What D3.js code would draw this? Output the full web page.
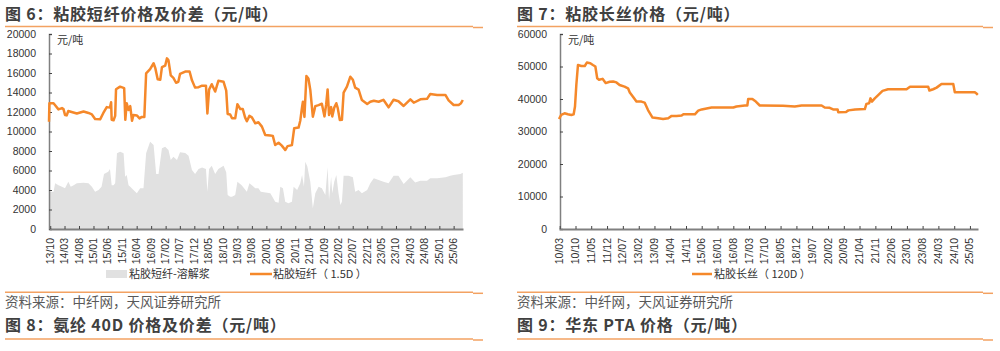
<!DOCTYPE html>
<html>
<head>
<meta charset="utf-8">
<script src="https://cdn.jsdelivr.net/npm/d3@7"></script>
<style>
  body { margin: 0; background: #fff; }
  svg { display: block; }
  text { font-family: "Liberation Sans", Arial, "Noto Sans CJK SC", sans-serif; }
  .cjk { font-family: "Noto Sans CJK SC", sans-serif; }
</style>
</head>
<body>
<div id="chart"></div>
<script>
// ---- data: viscose staple fibre 1.5D price (元/吨)
const stapleTicks = ["13/10","14/03","14/08","15/01","15/06","15/11","16/04","16/09","17/02","17/07","17/12","18/05","18/10","19/03","19/08","20/01","20/06","20/11","21/04","21/09","22/02","22/07","22/12","23/05","23/10","24/03","24/08","25/01","25/06"];

const staplePrice = [
  ["2013-09-18",11000],["2013-09-22",12900],["2013-11-05",12900],["2013-11-22",12700],["2013-12-27",12270],
  ["2014-02-02",12400],["2014-02-18",12300],["2014-03-06",11700],["2014-03-24",11650],["2014-04-10",12100],
  ["2014-05-15",12000],["2014-07-09",11850],["2014-09-18",12050],["2014-11-09",11900],["2014-12-15",11750],
  ["2015-01-18",11280],["2015-03-12",11250],["2015-04-15",11900],["2015-05-21",12500],["2015-06-24",12450],
  ["2015-07-06",13000],["2015-07-12",11200],["2015-08-01",11150],["2015-08-18",11600],["2015-08-27",14330],
  ["2015-10-09",14600],["2015-11-21",14450],["2015-12-03",11200],["2015-12-18",12900],["2016-01-06",12200],
  ["2016-01-24",12600],["2016-02-12",11100],["2016-02-27",11700],["2016-04-03",11650],["2016-05-01",11350],
  ["2016-05-25",11500],["2016-06-21",11500],["2016-07-10",15970],["2016-08-21",16400],["2016-09-27",17000],
  ["2016-10-15",16500],["2016-11-09",15350],["2016-12-06",15300],["2016-12-24",16600],["2017-01-27",16750],
  ["2017-02-15",17500],["2017-03-03",17300],["2017-03-27",15750],["2017-04-24",15500],["2017-05-22",15000],
  ["2017-06-15",15100],["2017-07-03",15900],["2017-08-27",16150],["2017-10-12",16150],["2017-11-06",15250],
  ["2017-12-09",14500],["2018-01-15",14550],["2018-02-21",14700],["2018-04-03",14700],["2018-04-18",11850],
  ["2018-05-06",14300],["2018-06-03",14850],["2018-07-09",14100],["2018-08-12",15200],["2018-10-06",15100],
  ["2018-11-03",14200],["2018-11-18",11800],["2018-12-15",11750],["2019-01-03",11350],["2019-02-06",11350],
  ["2019-03-01",12800],["2019-04-01",12300],["2019-04-27",12300],["2019-05-21",11450],["2019-06-09",11050],
  ["2019-07-06",11600],["2019-08-01",11450],["2019-09-06",10840],["2019-10-09",10950],["2019-11-15",10500],
  ["2019-12-20",9640],["2020-02-12",9600],["2020-03-09",9550],["2020-04-03",8615],["2020-05-09",8850],
  ["2020-06-12",8550],["2020-07-18",8100],["2020-08-12",8500],["2020-09-27",8600],["2020-10-21",10330],
  ["2020-12-06",10400],["2020-12-24",11100],["2021-01-12",12500],["2021-01-21",13060],["2021-02-06",11500],
  ["2021-02-27",15700],["2021-03-21",15400],["2021-04-09",14260],["2021-05-06",11520],["2021-06-01",12600],
  ["2021-07-06",12700],["2021-08-09",12850],["2021-09-06",11550],["2021-09-24",12800],["2021-10-09",14320],
  ["2021-10-24",11700],["2021-11-15",12500],["2021-11-27",11550],["2021-12-18",12450],["2022-01-09",12900],
  ["2022-01-24",12400],["2022-02-15",11180],["2022-03-09",11200],["2022-03-27",13980],["2022-05-01",14600],
  ["2022-06-06",15620],["2022-07-03",15300],["2022-07-27",14500],["2022-09-01",14300],["2022-10-06",13230],
  ["2022-12-01",12820],["2023-01-03",13050],["2023-02-09",13150],["2023-04-01",13050],["2023-05-21",13250],
  ["2023-07-15",12480],["2023-09-06",13250],["2023-10-27",13100],["2023-12-21",12620],["2024-03-01",13300],
  ["2024-04-06",12950],["2024-06-15",13300],["2024-08-24",13350],["2024-09-27",13850],["2024-12-09",13750],
  ["2025-03-06",13750],["2025-04-09",13200],["2025-06-01",12720],["2025-07-24",12720],["2025-08-18",12900],
  ["2025-09-06",13230]
];

// staple fibre minus dissolving pulp spread
const stapleSpread = [
  ["2013-09-18",2970],["2013-09-22",3830],["2013-11-05",3830],["2013-11-22",4680],["2013-12-27",4500],
  ["2014-02-02",4340],["2014-03-06",4170],["2014-04-10",4850],["2014-05-06",4340],["2014-06-05",4500],
  ["2014-07-09",4680],["2014-09-18",4750],["2014-11-09",4680],["2014-12-15",4340],["2015-01-18",3830],
  ["2015-02-24",4000],["2015-03-27",4340],["2015-04-22",5640],["2015-06-06",5880],["2015-06-24",6150],
  ["2015-07-12",4500],["2015-08-01",4500],["2015-08-18",4680],["2015-09-06",7760],["2015-10-09",7930],
  ["2015-11-15",7760],["2015-12-01",5370],["2015-12-18",5540],["2016-01-06",4500],["2016-01-24",4340],
  ["2016-02-27",4000],["2016-04-03",3660],["2016-05-08",4170],["2016-06-12",4170],["2016-07-10",7760],
  ["2016-08-21",8960],["2016-09-27",8620],["2016-10-24",5640],["2016-11-18",5640],["2016-12-24",8270],
  ["2017-01-27",8440],["2017-03-03",8100],["2017-03-27",7080],["2017-04-24",7420],["2017-06-01",7080],
  ["2017-07-03",7870],["2017-08-27",7800],["2017-10-01",7520],["2017-11-06",6050],["2017-12-09",5640],
  ["2018-01-15",6150],["2018-02-21",6320],["2018-04-03",6150],["2018-04-18",3830],["2018-05-06",6150],
  ["2018-06-03",6500],["2018-07-09",5640],["2018-08-12",6150],["2018-10-06",6500],["2018-11-03",5810],
  ["2018-11-18",3490],["2018-12-15",3320],["2019-01-03",3320],["2019-02-06",3490],["2019-03-01",4850],
  ["2019-04-15",4500],["2019-06-09",3830],["2019-07-06",4680],["2019-08-01",4500],["2019-09-06",4170],
  ["2019-10-09",4170],["2019-11-03",3830],["2020-02-12",3660],["2020-04-03",2800],["2020-05-09",2700],
  ["2020-05-27",4340],["2020-06-24",4170],["2020-07-18",2800],["2020-08-21",2630],["2020-09-27",2800],
  ["2020-10-15",4340],["2020-11-21",4000],["2020-12-24",4680],["2021-01-12",5540],["2021-02-01",4340],
  ["2021-02-15",6900],["2021-03-09",6400],["2021-04-09",4850],["2021-05-06",2120],["2021-06-01",3660],
  ["2021-07-06",4340],["2021-08-09",4170],["2021-09-15",3490],["2021-10-09",6330],["2021-10-24",2970],
  ["2021-11-15",5370],["2021-11-27",3660],["2021-12-18",4850],["2022-01-09",5540],["2022-02-01",3660],
  ["2022-02-21",2460],["2022-03-09",2800],["2022-03-27",5470],["2022-05-18",5470],["2022-07-03",5300],
  ["2022-07-27",3830],["2022-09-01",4000],["2022-10-06",3660],["2022-12-01",4000],["2023-01-03",4680],
  ["2023-02-09",5200],["2023-04-01",5030],["2023-05-21",4850],["2023-07-15",4680],["2023-09-06",5470],
  ["2023-10-27",5470],["2023-12-21",4620],["2024-03-01",5300],["2024-04-21",4780],["2024-06-15",4950],
  ["2024-08-24",4950],["2024-09-27",5200],["2024-12-09",5200],["2025-03-06",5300],["2025-04-27",5470],
  ["2025-06-01",5540],["2025-08-12",5640],["2025-09-06",5780]
];

// ---- data: viscose filament 120D price (元/吨)
const filamentTicks = ["10/03","10/10","11/05","11/12","12/07","13/02","13/09","14/04","14/11","15/06","16/01","16/08","17/03","17/10","18/05","18/12","19/07","20/02","20/09","21/04","21/11","22/06","23/01","23/08","24/03","24/10","25/05"];

const filamentPrice = [
  ["2010-02-20",33850],["2010-03-22",35100],["2010-05-06",35600],["2010-06-20",35300],["2010-08-06",35100],
  ["2010-09-06",35300],["2010-09-24",37700],["2010-10-12",44300],["2010-11-03",50460],["2010-12-18",50150],
  ["2011-02-03",50150],["2011-03-03",51200],["2011-04-18",51000],["2011-05-24",50460],["2011-06-26",50000],
  ["2011-07-21",46400],["2011-08-15",45900],["2011-10-01",46200],["2011-11-12",44900],["2012-01-06",45300],
  ["2012-02-21",45400],["2012-04-06",45100],["2012-05-18",44300],["2012-07-24",43800],["2012-09-09",43300],
  ["2012-10-03",42000],["2012-11-15",40700],["2013-01-01",39200],["2013-03-09",39200],["2013-04-21",38900],
  ["2013-06-06",36600],["2013-08-06",34300],["2013-10-21",34100],["2013-12-27",33850],["2014-03-06",34100],
  ["2014-04-21",34800],["2014-06-27",34800],["2014-09-03",34900],["2014-09-27",35300],["2015-03-01",35300],
  ["2015-04-15",36400],["2015-06-01",36800],["2015-08-06",37100],["2015-10-12",37400],["2016-08-01",37400],
  ["2016-09-12",37700],["2017-01-03",38000],["2017-02-06",38000],["2017-02-18",40000],["2017-04-15",40000],
  ["2017-06-01",39200],["2017-07-24",38000],["2018-06-03",37900],["2018-11-09",37700],["2019-02-09",38000],
  ["2019-11-06",38000],["2019-12-18",37400],["2020-02-24",37300],["2020-04-09",36800],["2020-06-09",36800],
  ["2020-06-18",35900],["2020-10-01",36000],["2020-11-01",36500],["2021-02-01",36800],["2021-06-12",36900],
  ["2021-07-03",38500],["2021-08-09",38700],["2021-08-27",40200],["2021-09-15",39200],["2021-10-24",40200],
  ["2021-12-09",41200],["2022-02-06",42500],["2022-04-21",43000],["2022-12-27",43000],["2023-02-12",43800],
  ["2023-10-15",43800],["2023-11-01",42600],["2023-12-21",43000],["2024-02-06",43500],["2024-04-12",44600],
  ["2024-09-18",44600],["2024-10-09",42100],["2025-07-06",42100],["2025-07-28",41700],["2025-08-15",41300]
];

const ORANGE = "#f5882a";
const RULE = "#f3a262";
const AXIS = "#808080";
const INK = "#404040";
const SPREAD = "#e1e1e1";

const parseDay = d3.timeParse("%Y-%m-%d");
const parseTick = d3.timeParse("%y/%m");
const fmtTick = d3.timeFormat("%y/%m");

const svg = d3.select("#chart").append("svg")
  .attr("width", 1000)
  .attr("height", 351)
  .attr("viewBox", [0, 0, 1000, 351]);

svg.append("rect").attr("width", 1000).attr("height", 351).attr("fill", "#fff");

// ---- frame: titles, rules, sources
const drawFrame = (x0, x1, title, source, nextTitle) => {
  svg.append("text").attr("class", "cjk")
    .attr("x", x0).attr("y", 20)
    .attr("font-size", 16).attr("font-weight", "bold").attr("fill", INK)
    .attr("letter-spacing", 0.8)
    .text(title);
  [26.5, 292.3, 339].forEach(y => {
    svg.append("line")
      .attr("x1", x0).attr("x2", x1 - 10).attr("y1", y).attr("y2", y)
      .attr("stroke", RULE).attr("stroke-width", 1.5);
    svg.append("line")
      .attr("x1", x1 - 10).attr("x2", x1).attr("y1", y + 1).attr("y2", y + 1)
      .attr("stroke", RULE).attr("stroke-width", 1.5);
  });
  svg.append("text").attr("class", "cjk")
    .attr("x", x0).attr("y", 307)
    .attr("font-size", 13.5).attr("fill", "#595959")
    .text(source);
  svg.append("text").attr("class", "cjk")
    .attr("x", x0).attr("y", 331)
    .attr("font-size", 16).attr("font-weight", "bold").attr("fill", INK)
    .attr("letter-spacing", 0.8)
    .text(nextTitle);
};

drawFrame(5, 483, "图 6：粘胶短纤价格及价差（元/吨）", "资料来源：中纤网，天风证券研究所", "图 8：氨纶 40D 价格及价差（元/吨）");
drawFrame(517, 993, "图 7：粘胶长丝价格（元/吨）", "资料来源：中纤网，天风证券研究所", "图 9：华东 PTA 价格（元/吨）");

// ---- shared axis helpers
const drawAxes = (g, xScale, yScale, ticks, yTicks, x0, y0) => {
  const yAxis = g.append("g")
    .attr("transform", `translate(${x0}, 0)`)
    .call(d3.axisRight(yScale).tickValues(yTicks).tickSize(3).tickFormat(""));
  yAxis.select(".domain").attr("stroke", AXIS).attr("stroke-width", 1.5);
  yAxis.selectAll(".tick line").attr("stroke", "#444").attr("stroke-width", 1);

  // labels on the outside
  g.append("g").selectAll("text")
    .data(yTicks)
    .join("text")
      .attr("x", x0 - 13)
      .attr("y", d => yScale(d) + 3.5)
      .attr("text-anchor", "end")
      .attr("font-size", 10.5)
      .attr("fill", "#333")
      .text(d => d);

  const xAxis = g.append("g")
    .attr("transform", `translate(0, ${y0})`)
    .call(d3.axisTop(xScale).tickValues(ticks).tickSize(3).tickSizeOuter(0).tickFormat(""));
  xAxis.select(".domain").attr("stroke", AXIS).attr("stroke-width", 1.8);
  xAxis.selectAll(".tick line").attr("stroke", "#444").attr("stroke-width", 1);

  g.append("g").selectAll("text")
    .data(ticks)
    .join("text")
      .attr("transform", d => `translate(${xScale(d) + 3.5}, ${y0 + 9}) rotate(-90)`)
      .attr("text-anchor", "end")
      .attr("font-size", 10.5)
      .attr("fill", "#333")
      .text(d => fmtTick(d));

  g.append("text").attr("class", "cjk")
    .attr("x", x0 + 8).attr("y", 44)
    .attr("font-size", 11).attr("fill", "#333")
    .text("元/吨");
};

// ---- chart 6: staple fibre
{
  const g = svg.append("g");
  const ticks = stapleTicks.map(parseTick);
  const x = d3.scaleTime()
    .domain([parseDay("2013-09-18"), parseDay("2025-09-08")])
    .range([49, 463]);
  const y = d3.scaleLinear().domain([0, 20000]).range([229, 34]);

  const area = d3.area()
    .x(d => x(parseDay(d[0])))
    .y0(y(0))
    .y1(d => y(d[1]));
  g.append("path")
    .datum(stapleSpread)
    .attr("d", area)
    .attr("fill", SPREAD);

  drawAxes(g, x, y, ticks, d3.range(0, 20001, 2000), 49, 229);

  const line = d3.line()
    .x(d => x(parseDay(d[0])))
    .y(d => y(d[1]));
  g.append("path")
    .datum(staplePrice)
    .attr("d", line)
    .attr("fill", "none")
    .attr("stroke", ORANGE)
    .attr("stroke-width", 2.5)
    .attr("stroke-linejoin", "round");

  // legend
  g.append("rect").attr("x", 106).attr("y", 270).attr("width", 21).attr("height", 8).attr("fill", SPREAD);
  g.append("text").attr("class", "cjk").attr("x", 129).attr("y", 278)
    .attr("font-size", 11).attr("fill", "#333").text("粘胶短纤-溶解浆");
  g.append("line").attr("x1", 250).attr("x2", 272).attr("y1", 274).attr("y2", 274)
    .attr("stroke", ORANGE).attr("stroke-width", 2.5);
  g.append("text").attr("class", "cjk").attr("x", 273).attr("y", 278)
    .attr("font-size", 11).attr("fill", "#333").text("粘胶短纤（ 1.5D ）");
}

// ---- chart 7: filament
{
  const g = svg.append("g");
  const ticks = filamentTicks.map(parseTick);
  const x = d3.scaleTime()
    .domain([parseDay("2010-02-20"), parseDay("2025-08-18")])
    .range([559, 978]);
  const y = d3.scaleLinear().domain([0, 60000]).range([229, 34]);

  drawAxes(g, x, y, ticks, d3.range(0, 60001, 10000), 560, 229);

  const line = d3.line()
    .x(d => x(parseDay(d[0])))
    .y(d => y(d[1]));
  g.append("path")
    .datum(filamentPrice)
    .attr("d", line)
    .attr("fill", "none")
    .attr("stroke", ORANGE)
    .attr("stroke-width", 2.5)
    .attr("stroke-linejoin", "round");

  g.append("line").attr("x1", 692).attr("x2", 712).attr("y1", 274).attr("y2", 274)
    .attr("stroke", ORANGE).attr("stroke-width", 2.5);
  g.append("text").attr("class", "cjk").attr("x", 714).attr("y", 278)
    .attr("font-size", 11).attr("fill", "#333").text("粘胶长丝（ 120D ）");
}
</script>
</body>
</html>
